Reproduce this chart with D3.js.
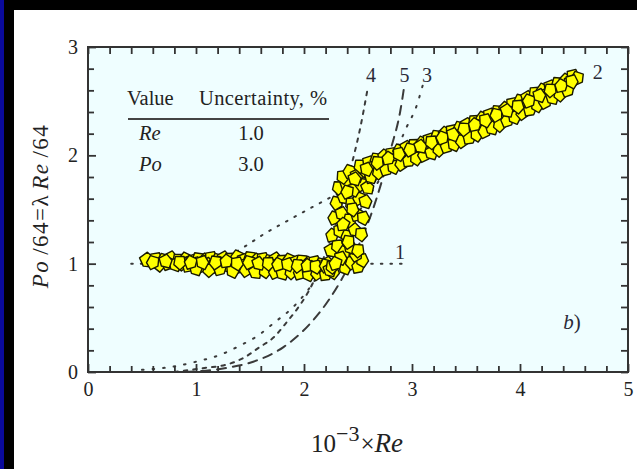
<!DOCTYPE html>
<html>
<head>
<meta charset="utf-8">
<script src="https://cdn.jsdelivr.net/npm/d3@7"></script>
<style>
  html, body { margin: 0; padding: 0; background: #000; }
  svg { display: block; }
</style>
</head>
<body>
<svg id="chart" width="637" height="469"></svg>
<script>
// Measured points: Re in thousands, Po/64
const re = [
  // laminar band
  0.55,0.63,0.70,0.77,0.84,0.90,0.96,1.02,1.08,1.14,1.20,1.26,1.32,1.38,1.44,1.50,1.56,1.62,1.68,1.74,1.80,1.86,1.92,1.98,2.04,2.10,2.16,2.22,
  0.66,0.74,0.81,0.87,0.93,0.99,1.05,1.11,1.17,1.23,1.29,1.35,1.41,1.47,1.53,1.59,1.65,1.71,1.77,1.83,1.89,1.95,2.01,2.07,2.13,2.19,
  1.00,1.12,1.22,1.34,1.46,1.55,1.64,1.73,1.80,1.88,1.96,2.04,2.12,2.20,2.27,
  0.60,0.72,0.85,0.95,1.06,1.18,1.28,1.38,1.49,1.58,1.67,1.76,1.85,1.94,2.03,2.11,2.20,2.24,
  // transition
  2.26,2.32,2.38,2.44,2.50,2.54,2.48,
  2.25,2.31,2.37,2.43,2.50,
  2.26,2.33,2.40,2.47,2.53,
  2.28,2.35,2.42,2.49,2.55,
  2.30,2.37,2.44,2.51,2.57,
  2.32,2.39,2.46,2.53,2.59,
  2.36,2.42,2.49,2.56,2.62,
  2.34,2.41,2.36,2.45,2.40,2.47,2.52,2.29,
  // turbulent band
  2.60,2.67,2.74,2.81,2.88,2.95,3.02,3.09,3.16,3.23,3.30,3.37,3.44,3.51,3.58,3.65,3.72,3.79,3.86,3.93,4.00,4.07,4.14,4.21,4.28,4.35,4.42,4.49,
  2.64,2.71,2.78,2.85,2.92,2.99,3.06,3.13,3.20,3.27,3.34,3.41,3.48,3.55,3.62,3.69,3.76,3.83,3.90,3.97,4.04,4.11,4.18,4.25,4.32,4.39,4.46,4.53,
  2.62,2.69,2.76,2.83,2.90,2.97,3.04,3.11,3.18,3.25,3.32,3.39,3.46,3.53,3.60,3.67,3.74,3.81,3.88,3.95,4.02,4.09,4.16,4.23,4.30,4.37,4.44,
  2.58,2.68,2.78,2.88,2.98,3.08,3.18,3.28,3.38,3.48,3.58,3.68,3.78,3.88,3.98,4.08,4.18,4.28,4.38,4.48
];
const po = [
  1.03,1.04,1.03,1.05,1.03,1.04,1.02,1.04,1.03,1.05,1.03,1.05,1.04,1.06,1.03,1.05,1.03,1.04,1.02,1.04,1.02,1.03,1.01,1.02,1.00,1.01,0.99,1.00,
  0.99,1.00,0.99,1.00,0.98,1.00,0.98,0.99,0.98,1.00,0.98,0.99,0.97,0.99,0.97,0.98,0.96,0.98,0.96,0.97,0.95,0.97,0.95,0.96,0.94,0.95,
  0.95,0.94,0.95,0.93,0.94,0.92,0.93,0.92,0.91,0.92,0.91,0.90,0.91,0.90,0.92,
  1.01,1.02,1.01,1.01,1.01,1.01,1.02,1.00,1.01,1.00,1.00,0.99,0.99,0.98,0.98,0.97,0.98,0.94,
  0.97,1.02,0.96,1.01,0.97,1.03,1.08,
  1.12,1.16,1.10,1.15,1.12,
  1.26,1.30,1.25,1.31,1.27,
  1.42,1.46,1.40,1.45,1.42,
  1.56,1.61,1.55,1.60,1.57,
  1.70,1.74,1.68,1.73,1.70,
  1.80,1.85,1.81,1.86,1.80,
  1.05,1.20,1.36,1.50,1.66,1.78,1.90,1.00,
  1.93,1.96,1.99,2.01,2.04,2.07,2.09,2.11,2.14,2.17,2.20,2.22,2.25,2.28,2.31,2.34,2.37,2.40,2.43,2.47,2.50,2.53,2.57,2.60,2.63,2.66,2.69,2.73,
  1.88,1.91,1.94,1.96,1.99,2.02,2.04,2.06,2.09,2.12,2.14,2.17,2.20,2.23,2.26,2.29,2.32,2.35,2.39,2.42,2.46,2.49,2.53,2.56,2.59,2.62,2.66,2.71,
  1.80,1.84,1.87,1.89,1.92,1.95,1.97,2.00,2.02,2.05,2.08,2.10,2.13,2.16,2.19,2.22,2.25,2.28,2.32,2.35,2.39,2.42,2.46,2.49,2.53,2.56,2.60,
  1.87,1.93,1.97,2.01,2.05,2.08,2.12,2.16,2.19,2.24,2.28,2.32,2.37,2.41,2.45,2.50,2.55,2.60,2.64,2.68
];

// Reference curves 1-5
const curve1Re = [0.40, 1.0, 1.5, 2.0, 2.5, 2.94];
const curve1Po = [1.0, 1.0, 1.0, 1.0, 1.0, 1.0];
const curve2Re = [1.30, 1.47, 1.64, 1.80, 2.00, 2.26, 2.50, 3.00, 3.50, 4.00, 4.50, 4.62];
const curve2Po = [1.07, 1.17, 1.28, 1.37, 1.48, 1.62, 1.75, 2.00, 2.25, 2.49, 2.71, 2.76];
const curve3Re = [0.50, 0.82, 1.00, 1.22, 1.40, 1.58, 1.73, 1.89, 2.04, 2.30, 2.60, 2.87, 2.95, 3.04, 3.10];
const curve3Po = [0.02, 0.055, 0.095, 0.157, 0.24, 0.34, 0.46, 0.59, 0.76, 1.18, 1.62, 2.08, 2.26, 2.45, 2.65];
const curve4Re = [0.80, 1.10, 1.27, 1.44, 1.59, 1.72, 1.84, 1.95, 2.04, 2.20, 2.32, 2.44, 2.52, 2.59];
const curve4Po = [0.00, 0.04, 0.065, 0.13, 0.23, 0.32, 0.46, 0.60, 0.74, 1.10, 1.45, 1.91, 2.25, 2.62];
const curve5Re = [0.90, 1.30, 1.53, 1.81, 2.06, 2.24, 2.45, 2.62, 2.81, 2.89, 2.93];
const curve5Po = [0.00, 0.04, 0.095, 0.23, 0.45, 0.68, 1.05, 1.45, 2.08, 2.40, 2.65];

const curveLabels = [
  { text: "1", re: 2.89, po: 1.11 },
  { text: "2", re: 4.72, po: 2.77 },
  { text: "3", re: 3.14, po: 2.74 },
  { text: "4", re: 2.62, po: 2.74 },
  { text: "5", re: 2.93, po: 2.74 }
];

const xTicks = [0, 1, 2, 3, 4, 5];
const yTicks = [0, 1, 2, 3];

const tableHead = ["Value", "Uncertainty, %"];
const tableQty = ["Re", "Po"];
const tableUnc = ["1.0", "3.0"];

const svg = d3.select("#chart");
const W = 637, H = 469;

// page frame
svg.append("rect").attr("width", W).attr("height", H).attr("fill", "#000");
svg.append("rect").attr("x", 0).attr("y", 0).attr("width", 4).attr("height", H).attr("fill", "#0a0a9c");
svg.append("rect").attr("x", 14).attr("y", 10).attr("width", W - 14).attr("height", H - 10).attr("fill", "#fff");

const x = d3.scaleLinear().domain([0, 5]).range([88, 628]);
const y = d3.scaleLinear().domain([0, 3]).range([372, 47]);

svg.append("rect")
  .attr("x", x(0)).attr("y", y(3))
  .attr("width", x(5) - x(0)).attr("height", y(0) - y(3))
  .attr("fill", "#effeff");

const serif = "'Liberation Serif', 'DejaVu Serif', serif";
const ink = "#222";

// reference curves
const line = d3.line().x(d => x(d[0])).y(d => y(d[1])).curve(d3.curveMonotoneX);
const curves = [
  { r: curve1Re, p: curve1Po, dash: "1.6,8" },
  { r: curve2Re, p: curve2Po, dash: "1.6,8" },
  { r: curve3Re, p: curve3Po, dash: "1.6,9" },
  { r: curve4Re, p: curve4Po, dash: "3.5,6" },
  { r: curve5Re, p: curve5Po, dash: "9,7" }
];
const curveG = svg.append("g");
curves.forEach(c => {
  curveG.append("path")
    .datum(c.r.map((v, i) => [v, c.p[i]]))
    .attr("d", line)
    .attr("fill", "none")
    .attr("stroke", "#3a3a3a")
    .attr("stroke-width", 2)
    .attr("stroke-linecap", "round")
    .attr("stroke-dasharray", c.dash);
});

// data markers (irregular pentagons)
function pentagon(r, rot) {
  const pts = d3.range(5).map(k => {
    const a = rot + k * 2 * Math.PI / 5;
    const rr = r * (k % 2 ? 0.9 : 1.06);
    return [rr * Math.sin(a), -rr * Math.cos(a)];
  });
  return "M" + pts.map(p => p[0].toFixed(2) + "," + p[1].toFixed(2)).join("L") + "Z";
}
const pts = re.map((v, i) => ({ re: v, po: po[i], i }));
svg.append("g").selectAll("path")
  .data(pts)
  .join("path")
  .attr("transform", d => `translate(${x(d.re)},${y(d.po)})`)
  .attr("d", d => pentagon(d.i === 0 ? 7.8 : 7.0, (d.i * 0.47) % 1.26))
  .attr("fill", "#ffff00")
  .attr("stroke", "#1a1a00")
  .attr("stroke-width", 1.4)
  .attr("stroke-linejoin", "round");

// axes frame
const axG = svg.append("g").attr("font-family", serif);
const minorX = d3.range(0, 5.001, 0.2).filter(v => Math.abs(v - Math.round(v)) > 1e-6);
const minorY = d3.range(0, 3.001, 0.2).filter(v => Math.abs(v - Math.round(v)) > 1e-6);

function styleAxis(g) {
  g.select(".domain").remove();
  g.selectAll(".tick line").attr("stroke", "#333").attr("stroke-width", 1.8);
  g.selectAll(".tick text").attr("fill", ink).attr("font-size", 20).attr("font-family", serif);
}

axG.append("g").attr("transform", `translate(0,${y(0)})`)
  .call(d3.axisBottom(x).tickValues(xTicks).tickSize(-8).tickPadding(10).tickFormat(d3.format("d")))
  .call(styleAxis);
axG.append("g").attr("transform", `translate(0,${y(0)})`)
  .call(d3.axisBottom(x).tickValues(minorX).tickSize(-6).tickFormat(""))
  .call(styleAxis);
axG.append("g").attr("transform", `translate(0,${y(3)})`)
  .call(d3.axisTop(x).tickValues(xTicks.concat(minorX)).tickSize(-7).tickFormat(""))
  .call(styleAxis);
axG.append("g").attr("transform", `translate(${x(0)},0)`)
  .call(d3.axisLeft(y).tickValues(yTicks).tickSize(-8).tickPadding(10).tickFormat(d3.format("d")))
  .call(styleAxis);
axG.append("g").attr("transform", `translate(${x(0)},0)`)
  .call(d3.axisLeft(y).tickValues(minorY).tickSize(-6).tickFormat(""))
  .call(styleAxis);
axG.append("g").attr("transform", `translate(${x(5)},0)`)
  .call(d3.axisRight(y).tickValues(yTicks.concat(minorY)).tickSize(-7).tickFormat(""))
  .call(styleAxis);

svg.append("rect")
  .attr("x", x(0)).attr("y", y(3))
  .attr("width", x(5) - x(0)).attr("height", y(0) - y(3))
  .attr("fill", "none").attr("stroke", "#333").attr("stroke-width", 2);

// curve labels
svg.append("g").selectAll("text")
  .data(curveLabels)
  .join("text")
  .attr("x", d => x(d.re))
  .attr("y", d => y(d.po))
  .attr("text-anchor", "middle")
  .attr("dy", "0.35em")
  .attr("font-family", serif)
  .attr("font-size", 20)
  .attr("fill", "#2a2a38")
  .text(d => d.text);

// panel tag
svg.append("text")
  .attr("x", 572).attr("y", 329)
  .attr("text-anchor", "middle")
  .attr("font-family", serif).attr("font-size", 21).attr("fill", "#2a2a38")
  .call(t => {
    t.append("tspan").attr("font-style", "italic").text("b");
    t.append("tspan").text(")");
  });

// uncertainty table
const tab = svg.append("g").attr("font-family", serif).attr("font-size", 20.5).attr("fill", ink);
tab.append("text").attr("x", 127).attr("y", 105).text(tableHead[0]);
tab.append("text").attr("x", 199).attr("y", 105).attr("letter-spacing", 0.4).text(tableHead[1]);
tab.append("line").attr("x1", 128).attr("x2", 329).attr("y1", 119).attr("y2", 119)
  .attr("stroke", "#444").attr("stroke-width", 2);
tableQty.forEach((q, i) => {
  const yy = 140 + i * 31;
  tab.append("text").attr("x", 139).attr("y", yy).attr("font-style", "italic").text(q);
  tab.append("text").attr("x", 251).attr("y", yy).attr("text-anchor", "middle").text(tableUnc[i]);
});

// axis titles
const xt = svg.append("text")
  .attr("x", 357).attr("y", 452)
  .attr("text-anchor", "middle")
  .attr("font-family", serif).attr("font-size", 25).attr("fill", ink);
xt.append("tspan").text("10");
xt.append("tspan").attr("dy", -11).attr("font-size", 22).text("\u22123");
xt.append("tspan").attr("dy", 11).attr("dx", 1).text("\u00d7");
xt.append("tspan").attr("font-style", "italic").attr("font-size", 27).text("Re");

const yt = svg.append("text")
  .attr("transform", "translate(48,206) rotate(-90)")
  .attr("text-anchor", "middle")
  .attr("font-family", serif).attr("font-size", 23).attr("letter-spacing", 1.5).attr("fill", ink);
yt.append("tspan").attr("font-style", "italic").text("Po");
yt.append("tspan").attr("dx", 5).text("/64=\u03bb");
yt.append("tspan").attr("dx", 4).attr("font-style", "italic").text("Re");
yt.append("tspan").attr("dx", 5).text("/64");
</script>
</body>
</html>
